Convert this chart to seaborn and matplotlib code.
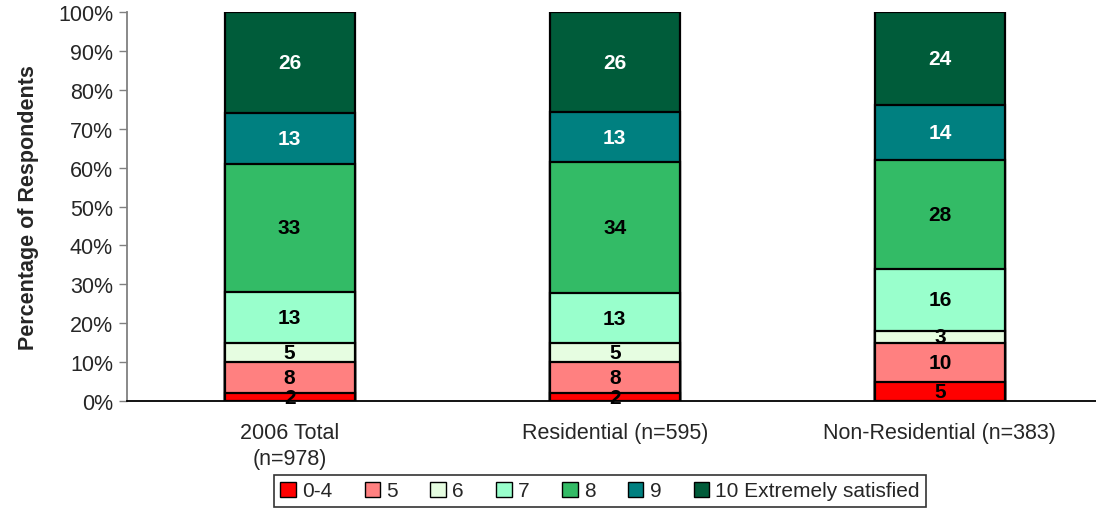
import numpy as np
import pandas as pd
import matplotlib
matplotlib.use("Agg")
import matplotlib.pyplot as plt
from matplotlib.patches import Patch
import seaborn as sns

# Survey groups and satisfaction ratings (percent of respondents)
groups = ["2006 Total\n(n=978)", "Residential (n=595)", "Non-Residential (n=383)"]
ratings = ["0-4", "5", "6", "7", "8", "9", "10 Extremely satisfied"]
r_0_4 = [2, 2, 5]
r_5 = [8, 8, 10]
r_6 = [5, 5, 3]
r_7 = [13, 13, 16]
r_8 = [33, 34, 28]
r_9 = [13, 13, 14]
r_10 = [26, 26, 24]

colors = ["#FF0000", "#FF8080", "#E6FDE1", "#99FFCC", "#33BB66", "#008080", "#005C3A"]
label_colors = ["black", "black", "black", "black", "black", "white", "white"]

series = [r_0_4, r_5, r_6, r_7, r_8, r_9, r_10]
vals = np.array(series, dtype=float)          # shape (ratings, groups)
shares = vals / vals.sum(axis=0) * 100.0       # 100% stacked
tops = np.cumsum(shares, axis=0)
bottoms = tops - shares

sns.set_style("white")
plt.rcParams["font.family"] = ["Liberation Sans", "DejaVu Sans"]

fig = plt.figure(figsize=(10.96, 5.10), dpi=100)
ax = fig.add_axes([127 / 1096, 108 / 510, 1 - 127 / 1096, (402 - 13) / 510])

# Draw stacks from the top layer down so each cumulative bar shows its own band
for i in range(len(ratings) - 1, -1, -1):
    df = pd.DataFrame({"group": groups, "top": tops[i]})
    sns.barplot(data=df, x="group", y="top", order=groups, color=colors[i],
                saturation=1, width=0.4, edgecolor="black", linewidth=1.6,
                ax=ax, zorder=2)

# Segment value labels
for i, rating in enumerate(ratings):
    for j in range(len(groups)):
        y = bottoms[i, j] + shares[i, j] / 2
        ax.text(j, y, f"{int(vals[i, j])}", ha="center", va="center",
                fontsize=15, fontweight="bold", color=label_colors[i], zorder=5)

ax.set_ylim(0, 100)
ax.set_xlim(-0.5, 2.48)
ax.set_yticks(np.arange(0, 101, 10))
ax.set_yticklabels([f"{v}%" for v in range(0, 101, 10)], fontsize=15.5)
ax.set_xticks(range(len(groups)))
ax.set_xticklabels(groups, fontsize=15.5, linespacing=1.35)
ax.set_xticks([0.5, 1.5], minor=True)
ax.tick_params(axis="x", which="major", length=0, pad=15)
ax.tick_params(axis="x", which="minor", length=7, width=1, color="#808080", direction="out")
ax.tick_params(axis="y", length=6, width=1, color="#808080", direction="out", left=True, pad=4)
ax.set_xlabel("")
ax.set_ylabel("Percentage of Respondents", fontsize=15.5, fontweight="bold", labelpad=14)

for s in ["top", "right"]:
    ax.spines[s].set_visible(False)
ax.spines["left"].set_color("#808080")
ax.spines["left"].set_linewidth(1.3)
ax.spines["bottom"].set_color("black")
ax.spines["bottom"].set_linewidth(1.3)
ax.grid(False)

handles = [Patch(facecolor=c, edgecolor="black", linewidth=1.0) for c in colors]
leg = fig.legend(handles, ratings, loc="center", bbox_to_anchor=(600 / 1096, 1 - 492 / 510),
                 ncol=7, fontsize=15, frameon=True, fancybox=False, handlelength=0.75,
                 handleheight=0.75, handletextpad=0.3, columnspacing=1.55,
                 borderpad=0.3, edgecolor="black")
leg.get_frame().set_linewidth(1.2)

fig.savefig("out.png", dpi=100)
